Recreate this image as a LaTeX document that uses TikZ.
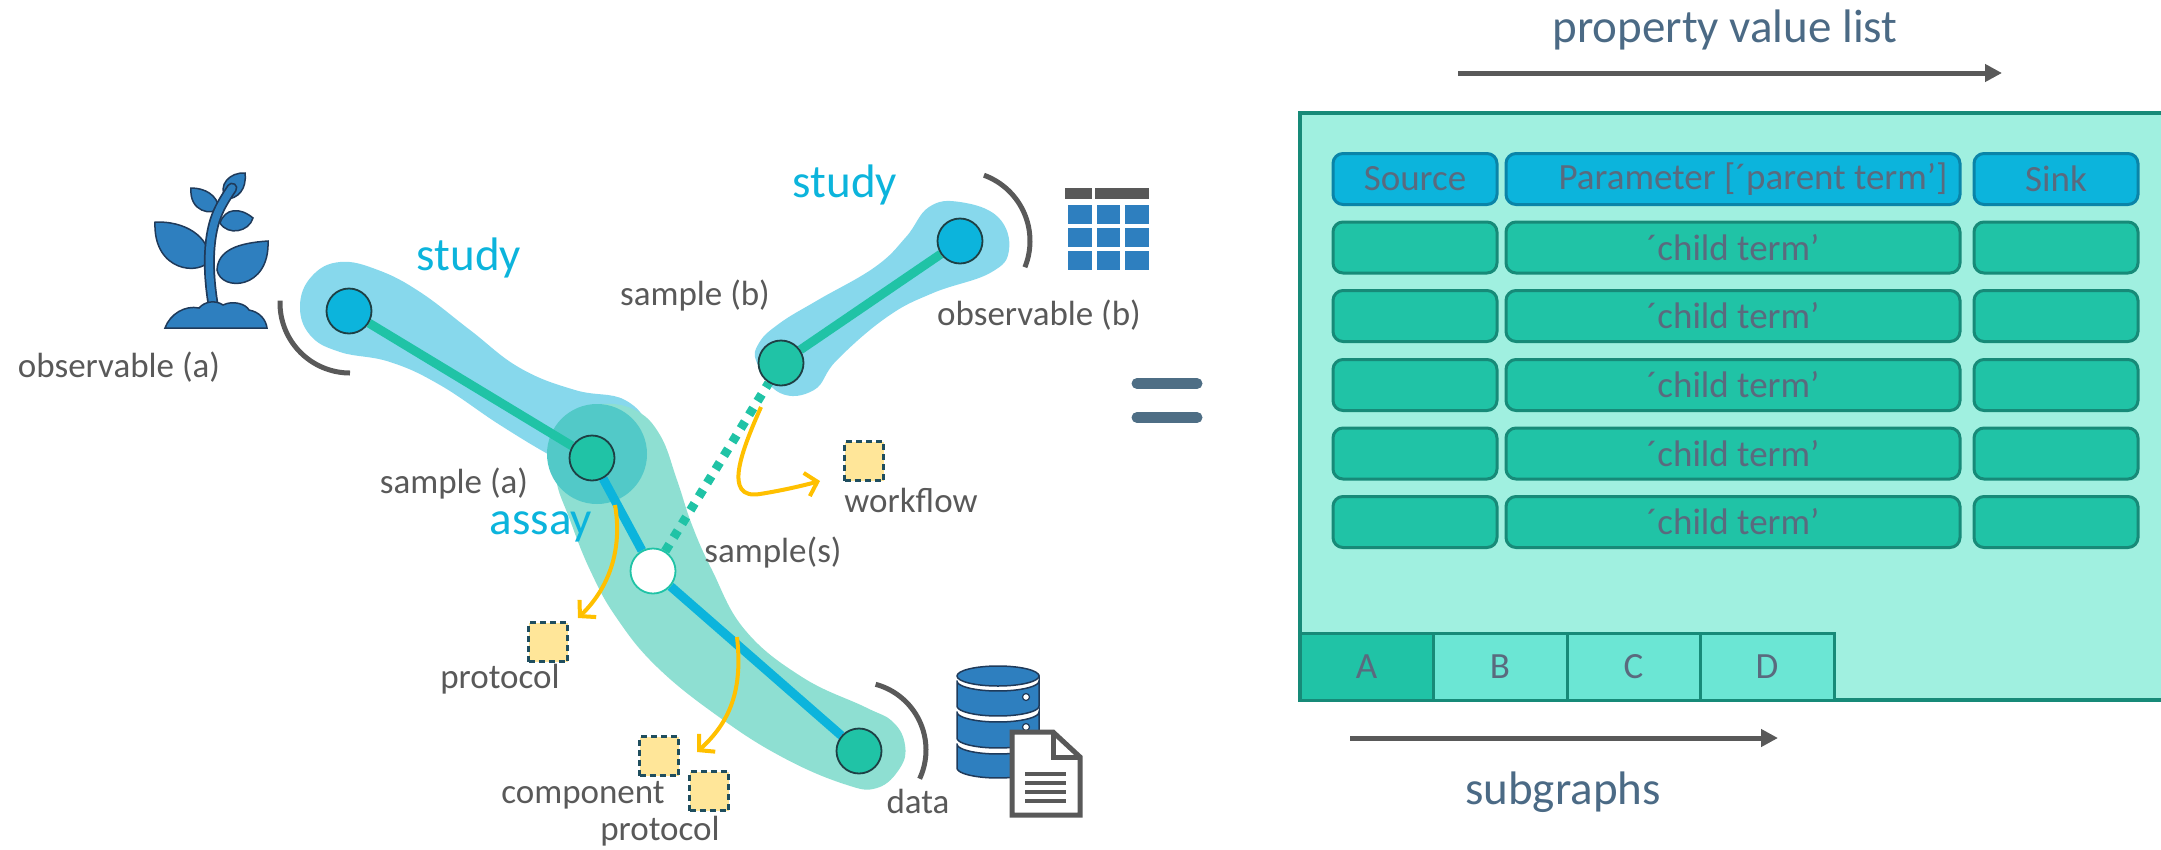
\documentclass[tikz,border=0pt]{standalone}
\usepackage{fontspec}
\setmainfont{Carlito}
\usetikzlibrary{arrows.meta}
\definecolor{cyanmain}{HTML}{0CB4DC}
\definecolor{greenmain}{HTML}{20C3A6}
\definecolor{nodeline}{HTML}{1E3F44}
\definecolor{studyfill}{HTML}{87D8EC}
\definecolor{assayfill}{HTML}{8EDFD2}
\definecolor{overlapfill}{HTML}{52C9C8}
\definecolor{labgrey}{HTML}{595959}
\definecolor{ylw}{HTML}{FFC000}
\definecolor{protofill}{HTML}{FFE699}
\definecolor{protoline}{HTML}{1F4E5F}
\definecolor{iconblue}{HTML}{2E7FBF}
\definecolor{iconline}{HTML}{1F3A5A}
\definecolor{panelfill}{HTML}{A0F0E0}
\definecolor{panelline}{HTML}{178A78}
\definecolor{hdrline}{HTML}{0A84A8}
\definecolor{tabfill}{HTML}{6BE6D4}
\definecolor{celltext}{HTML}{5A6A7E}
\definecolor{captext}{HTML}{4B6A85}
\definecolor{eqcol}{HTML}{4E6E85}
\pgfdeclarelayer{blobs}
\pgfdeclarelayer{edges}
\pgfsetlayers{blobs,edges,main}
\begin{document}
\begin{tikzpicture}[x=1pt,y=-1pt,
  lab/.style={font=\fontsize{35}{40}\selectfont, text=labgrey, inner sep=0pt},
  bluelab/.style={font=\fontsize{47}{54}\selectfont, text=cyanmain, inner sep=0pt},
  obsnode/.style={circle, minimum size=45pt, inner sep=0pt, fill=cyanmain, draw=nodeline, line width=1.8pt},
  smpnode/.style={circle, minimum size=45pt, inner sep=0pt, fill=greenmain, draw=nodeline, line width=1.8pt},
  hubnode/.style={circle, minimum size=45pt, inner sep=0pt, fill=white, draw=greenmain, line width=1.8pt},
  greenedge/.style={draw=greenmain, line width=9pt},
  blueedge/.style={draw=cyanmain, line width=9pt},
  dotedge/.style={draw=greenmain, line width=9pt, dash pattern=on 8pt off 8pt},
  yarrow/.style={draw=ylw, line width=4pt, -{Straight Barb[length=11pt,width=24pt]}},
  protobox/.style={rectangle, minimum size=39pt, inner sep=0pt, fill=protofill, draw=protoline, line width=2.5pt, dash pattern=on 6pt off 4pt},
  viewarc/.style={draw=labgrey, line width=5pt},
  cellbase/.style={rectangle, rounded corners=10pt, line width=3pt, minimum height=51pt, inner sep=0pt, font=\fontsize{37}{44}\selectfont, text=celltext},
  hdrcell/.style={cellbase, fill=cyanmain, draw=hdrline},
  rowcell/.style={cellbase, fill=greenmain, draw=panelline},
  tabcell/.style={rectangle, minimum height=67pt, inner sep=0pt, draw=panelline, line width=3pt, font=\fontsize{37}{44}\selectfont, text=celltext},
  captxt/.style={font=\fontsize{47}{54}\selectfont, text=captext, inner sep=0pt},
  greyarrow/.style={draw=labgrey, line width=5pt, -{Triangle[length=17pt,width=17pt]}},
  leaf/.style={fill=iconblue, draw=iconline, line width=1.5pt}
]
\useasboundingbox (0,0) rectangle (2161,849);

% ---------- graph nodes ----------
\node[obsnode] (obsA) at (349,311) {};
\node[smpnode] (smpA) at (592,458) {};
\node[hubnode] (smpS) at (653,571) {};
\node[smpnode] (dataN) at (859,751) {};
\node[smpnode] (smpB) at (781,363) {};
\node[obsnode] (obsB) at (960,241) {};

% ---------- study / assay regions ----------
\begin{pgfonlayer}{blobs}
\fill[studyfill] plot[smooth cycle, tension=0.7] coordinates {(300,305) (312,276) (340,262) (378,270) (420,292) (470,330) (520,368) (575,390) (625,400) (648,430) (640,470) (600,480) (555,458) (500,425) (440,385) (390,362) (340,352) (310,335)};
\fill[assayfill] plot[smooth cycle, tension=0.7] coordinates {(600,404) (635,410) (660,435) (677,480) (692,525) (712,570) (745,630) (802,677) (865,707) (893,722) (905,745) (900,768) (877,788) (844,784) (782,757) (719,717) (657,667) (616,617) (590,570) (570,520) (556,478) (560,440) (575,414)};
\fill[overlapfill] (597,454) circle[radius=50];
\fill[studyfill] plot[smooth cycle, tension=0.7] coordinates {(757,363) (759,343) (780,323) (818,300) (875,267) (906,237) (929,207) (960,202) (998,217) (1009,250) (990,273) (933,293) (887,317) (837,360) (814,390) (780,393)};
\end{pgfonlayer}

% ---------- connectors ----------
\begin{pgfonlayer}{edges}
\draw[greenedge] (obsA) -- (smpA);
\draw[greenedge] (smpB) -- (obsB);
\draw[blueedge] (smpA) -- (smpS);
\draw[blueedge] (smpS) -- (dataN);
\draw[dotedge] (smpS) -- (smpB);
\end{pgfonlayer}

% ---------- viewing arcs ----------
\draw[viewarc] plot[domain=90:182, samples=40] ({350+70*cos(\x)}, {303+70*sin(\x)});
\draw[viewarc] plot[domain=-70:22, samples=40] ({960+70*cos(\x)}, {241+70*sin(\x)});
\draw[viewarc] plot[domain=-75:25, samples=40] ({858+68*cos(\x)}, {750+68*sin(\x)});

% ---------- protocol boxes and arrows ----------
\node[protobox] (protoL) at (548,642) {};
\node[protobox] (compA) at (659,756) {};
\node[protobox] (compB) at (709,791) {};
\node[protobox] (wflow) at (864,461) {};

\coordinate (yaS) at (615,505);
\coordinate (yaE) at (578,618);
\coordinate (ybS) at (761,407);
\coordinate (ybE) at (820,481);
\coordinate (ycS) at (737,637);
\coordinate (ycE) at (697,752);
\draw[yarrow] (yaS) .. controls (622,545) and (612,585) .. (yaE);
\draw[yarrow] (ybS) .. controls (742,450) and (722,500) .. (760,494) .. controls (785,490) and (805,485) .. (ybE);
\draw[yarrow] (ycS) .. controls (743,690) and (730,722) .. (ycE);

% ---------- labels ----------
\node[lab] (lObsA) at (119,367) {observable (a)};
\node[lab] (lSmpA) at (454,484) {sample (a)};
\node[lab] (lSmpB) at (695,296) {sample (b)};
\node[lab] (lObsB) at (1039,315) {observable (b)};
\node[lab] (lSmpS) at (773,553) {sample(s)};
\node[lab] (lWf) at (911,500) {workflow};
\node[lab] (lProtL) at (500,679) {protocol};
\node[lab] (lComp) at (583,795) {component};
\node[lab] (lProtB) at (660,831) {protocol};
\node[lab] (lData) at (918,801) {data};
\node[bluelab] (lStudyA) at (469,258) {study};
\node[bluelab] (lStudyB) at (845,185) {study};
\node[bluelab] (lAssay) at (541,527) {assay};

% ---------- plant icon ----------
% big left leaf
\draw[leaf] (210,260) .. controls (200,276) and (153,272) .. (155,222) .. controls (185,221) and (209,236) .. (210,260) -- cycle;
% big right leaf
\draw[leaf] (217,270) .. controls (221,292) and (270,290) .. (268,241) .. controls (238,243) and (218,250) .. (217,270) -- cycle;
% small upper left leaf
\draw[leaf] (219,208) .. controls (212,216) and (189,212) .. (191,188) .. controls (205,188) and (217,195) .. (219,208) -- cycle;
% small right leaf
\draw[leaf] (220,223) .. controls (228,236) and (249,232) .. (253,218) .. controls (240,207) and (225,208) .. (220,223) -- cycle;
% top leaf
\draw[leaf] (226,199) .. controls (217,185) and (230,172) .. (245,173) .. controls (247,189) and (238,199) .. (226,199) -- cycle;
% stem
\draw[iconline, line width=11pt, line cap=round] (215,315) .. controls (208,280) and (207,245) .. (215,220) .. controls (219,208) and (224,200) .. (232,188);
\draw[iconblue, line width=7.5pt, line cap=round] (215,315) .. controls (208,280) and (207,245) .. (215,220) .. controls (219,208) and (224,200) .. (232,188);
% ground
\draw[leaf] (165,328) .. controls (170,314) and (185,305) .. (199,308) .. controls (205,301) and (216,300) .. (223,305) .. controls (233,300) and (246,304) .. (249,310) .. controls (260,312) and (266,320) .. (267,328) -- cycle;

% ---------- table icon ----------
\fill[labgrey] (1065,188) rectangle (1092,199);
\fill[labgrey] (1095,188) rectangle (1149,199);
\foreach \cx/\cw in {1068/1092, 1097/1120, 1125/1149}
  \foreach \cy/\ch in {205/224, 228/247, 251/270}
    \fill[iconblue] (\cx,\cy) rectangle (\cw,\ch);

% ---------- database icon ----------
\foreach \tt/\bb in {681/706, 712/738, 744/768}
  \draw[fill=iconblue, draw=iconline, line width=1.5pt]
    (957,\tt) -- (957,\bb) -- plot[domain=180:0, samples=30] ({998+41*cos(\x)}, {\bb+10*sin(\x)})
    -- (1039,\tt) -- plot[domain=0:180, samples=30] ({998+41*cos(\x)}, {\tt+10*sin(\x)}) -- cycle;
\draw[fill=iconblue, draw=iconline, line width=1.5pt] (998,676) ellipse[x radius=41, y radius=10];
\foreach \dy in {697,727,757}
  \draw[fill=white, draw=iconline, line width=1.2pt] (1026,\dy) circle[radius=3.5];

% ---------- document icon ----------
\draw[fill=white, draw=labgrey, line width=5pt, line join=miter] (1012,732) -- (1053,732) -- (1080,757) -- (1080,815) -- (1012,815) -- cycle;
\draw[labgrey, line width=5pt] (1053,732) -- (1053,757) -- (1080,757);
\foreach \ly in {774,783,792,801}
  \draw[labgrey, line width=4pt] (1025,\ly) -- (1066,\ly);

% ---------- equals sign ----------
\draw[eqcol, line width=11pt, line cap=round] (1137,383.5) -- (1197,383.5);
\draw[eqcol, line width=11pt, line cap=round] (1137,417.5) -- (1197,417.5);

% ---------- property value list panel ----------
\node[captxt] (pvl) at (1725,30) {property value list};
\coordinate (pvlS) at (1458,73);
\coordinate (pvlE) at (2002,73);
\draw[greyarrow] (pvlS) -- (pvlE);

\draw[fill=panelfill, draw=panelline, line width=4pt] (1300,113) rectangle (2185,700);

\node[hdrcell, minimum width=164pt] (hSrc) at (1415,179) {Source};
\node[hdrcell, minimum width=454pt] (hPar) at (1733,179) {\hspace*{40pt}Parameter [´parent term’]};
\node[hdrcell, minimum width=164pt] (hSnk) at (2056,179) {Sink};
\foreach \r/\yy in {1/247.5, 2/316, 3/385, 4/453.5, 5/522} {
  \node[rowcell, minimum width=164pt] (src\r) at (1415,\yy) {};
  \node[rowcell, minimum width=454pt] (par\r) at (1733,\yy) {´child term’};
  \node[rowcell, minimum width=164pt] (snk\r) at (2056,\yy) {};
}

\node[tabcell, fill=greenmain, minimum width=133pt] (tabA) at (1366.5,666.5) {A};
\node[tabcell, fill=tabfill, minimum width=134pt] (tabB) at (1500,666.5) {B};
\node[tabcell, fill=tabfill, minimum width=133pt] (tabC) at (1633.5,666.5) {C};
\node[tabcell, fill=tabfill, minimum width=134pt] (tabD) at (1767,666.5) {D};

\coordinate (sgS) at (1350,738);
\coordinate (sgE) at (1778,738);
\draw[greyarrow] (sgS) -- (sgE);
\node[captxt] (sg) at (1563,792) {subgraphs};
\end{tikzpicture}
\end{document}
